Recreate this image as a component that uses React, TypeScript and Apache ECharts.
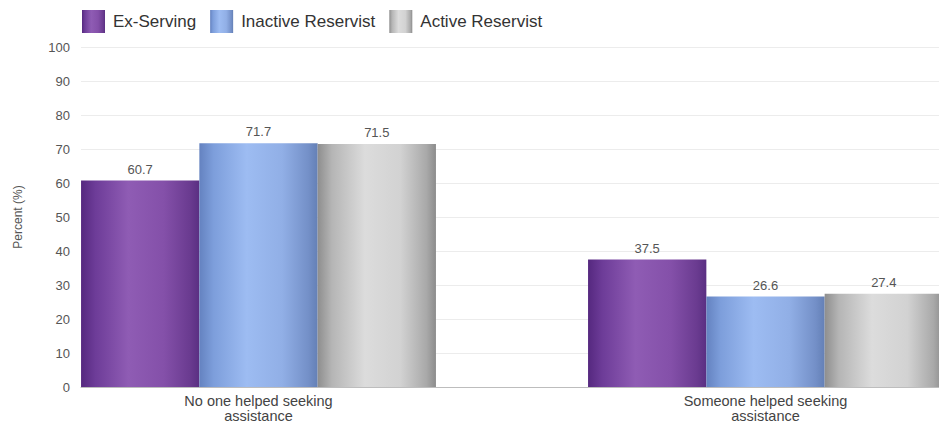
import React, { useEffect, useRef } from "react";
import * as echarts from "echarts";

const categories = ["No one helped seeking\nassistance", "Someone helped seeking\nassistance"];
const seriesNames = ["Ex-Serving", "Inactive Reservist", "Active Reservist"];
const exServing = [60.7, 37.5];
const inactiveReservist = [71.7, 26.6];
const activeReservist = [71.5, 27.4];
const yTicks = { min: 0, max: 100, interval: 10 };

const FONT = "'Liberation Sans', Arial, sans-serif";

const grad = (stops: [number, string][]) =>
  new echarts.graphic.LinearGradient(
    0, 0, 1, 0,
    stops.map(([offset, color]) => ({ offset, color }))
  );

const colors = [
  grad([[0, "#55287f"], [0.12, "#6d3c98"], [0.4, "#8f5cb4"], [0.7, "#8450a9"], [0.92, "#6a3b90"], [1, "#5a2f82"]]),
  grad([[0, "#6482c0"], [0.12, "#7d9edb"], [0.4, "#9dbcf2"], [0.7, "#91afe6"], [0.92, "#7490c8"], [1, "#6480b6"]]),
  grad([[0, "#8e8e8e"], [0.12, "#b5b5b5"], [0.4, "#dcdcdc"], [0.7, "#d2d2d2"], [0.92, "#a9a9a9"], [1, "#8c8c8c"]]),
];

const dataSets = [exServing, inactiveReservist, activeReservist];

export default function App() {
  const ref = useRef<HTMLDivElement>(null);
  useEffect(() => {
    if (!ref.current) return;
    const chart = echarts.init(ref.current, null, { renderer: "svg" });
    chart.setOption({
      animation: false,
      textStyle: { fontFamily: FONT },
      legend: {
        data: seriesNames,
        left: 77,
        top: 5,
        itemWidth: 23,
        itemHeight: 23,
        itemGap: 14,
        icon: "rect",
        textStyle: { fontSize: 17, color: "#333", fontFamily: FONT, padding: [0, 0, 0, 3] },
      },
      grid: [
        { left: 5, width: 1014, top: 47, bottom: 37, outerBoundsMode: "none", containLabel: false },
        { left: 81, right: 0, top: 47, bottom: 37, outerBoundsMode: "none", containLabel: false },
      ],
      xAxis: [
        {
          type: "category",
          gridIndex: 0,
          data: categories,
          axisLine: { show: false },
          axisTick: { show: false },
          axisLabel: {
            fontSize: 14.5,
            lineHeight: 14.5,
            color: "#444",
            margin: 7,
            fontFamily: FONT,
            interval: 0,
          },
        },
        {
          type: "value",
          gridIndex: 1,
          min: 0,
          max: 1,
          axisLine: { show: true, lineStyle: { color: "#bdbdbd", width: 1 } },
          axisTick: { show: false },
          axisLabel: { show: false },
          splitLine: { show: false },
        },
      ],
      yAxis: [
        {
          type: "value",
          gridIndex: 0,
          min: yTicks.min,
          max: yTicks.max,
          interval: yTicks.interval,
          show: false,
        },
        {
          type: "value",
          gridIndex: 1,
          min: yTicks.min,
          max: yTicks.max,
          interval: yTicks.interval,
          name: "Percent (%)",
          nameLocation: "middle",
          nameGap: 57,
          nameTextStyle: { fontSize: 12, color: "#555", fontFamily: FONT },
          axisLine: { show: false },
          axisTick: { show: false },
          axisLabel: { fontSize: 13, color: "#555", margin: 11, fontFamily: FONT },
          splitLine: { show: true, lineStyle: { color: "#ececec", width: 1 } },
        },
      ],
      series: dataSets.map((d, i) => ({
        name: seriesNames[i],
        type: "bar",
        xAxisIndex: 0,
        yAxisIndex: 0,
        data: d,
        barGap: "0%",
        barCategoryGap: "30%",
        itemStyle: { color: colors[i] },
        label: {
          show: true,
          position: "top",
          distance: 5,
          fontSize: 13,
          color: "#555",
          fontFamily: FONT,
        },
      })),
    });
    return () => chart.dispose();
  }, []);
  return <div ref={ref} style={{ width: 939, height: 424, position: "absolute", left: 0, top: 0 }} />;
}
